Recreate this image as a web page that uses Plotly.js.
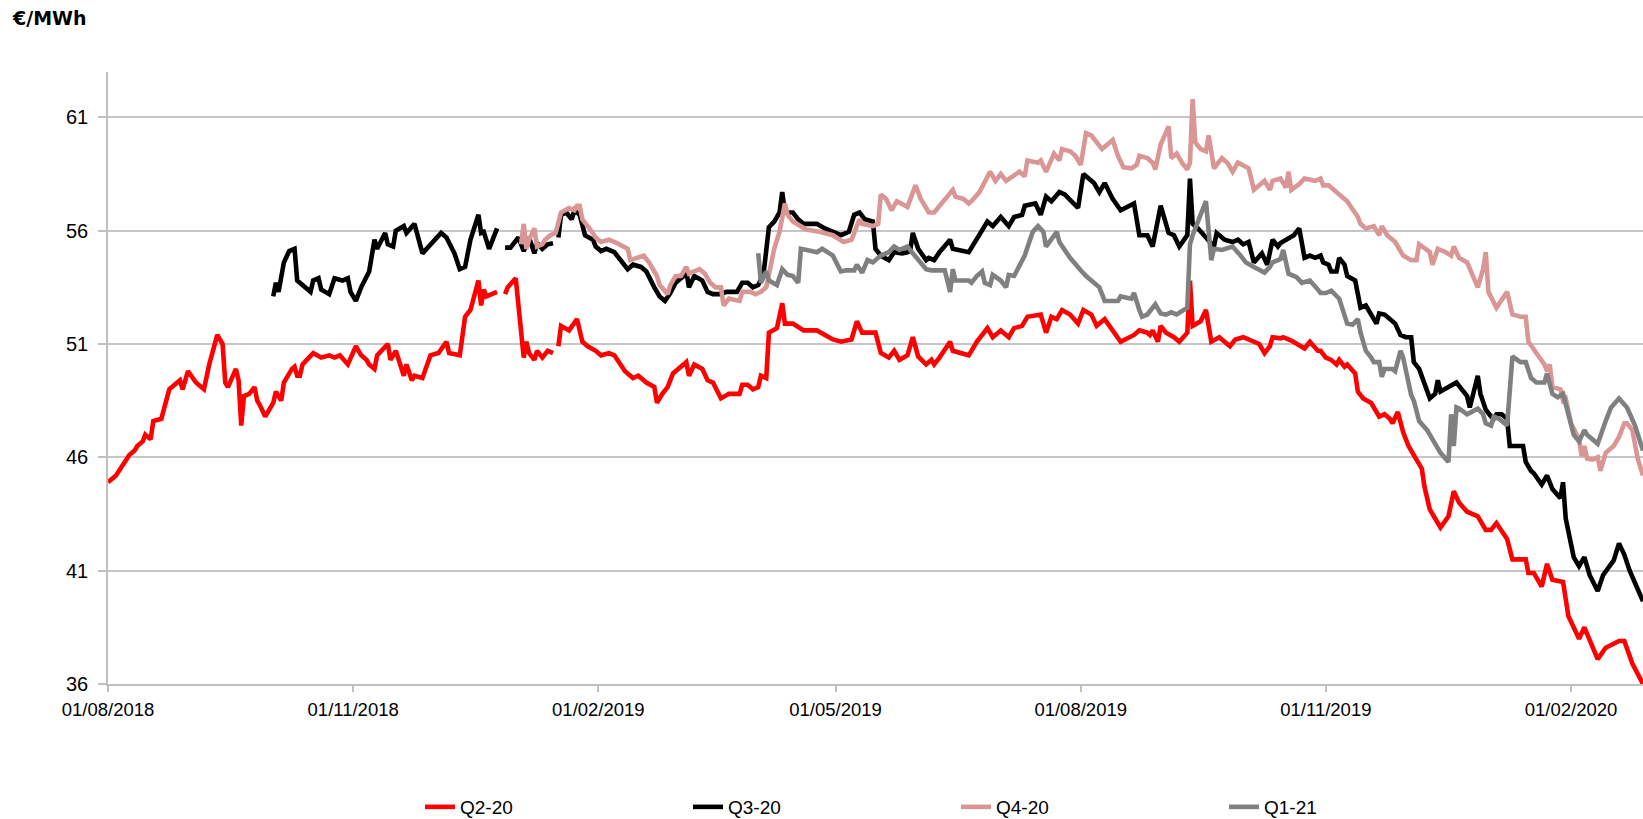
<!DOCTYPE html>
<html>
<head>
<meta charset="utf-8">
<script src="https://cdn.plot.ly/plotly-3.0.1.min.js"></script>
<style>
  html, body { margin: 0; padding: 0; background: #fff; }
  #chart { width: 1643px; height: 819px; }
</style>
</head>
<body>
<div id="chart"></div>
<script>
// Q2-20 (red)
const q220Dates = [
  "2018-08-01","2018-08-04","2018-08-09","2018-08-11","2018-08-12","2018-08-14","2018-08-15","2018-08-17","2018-08-18","2018-08-21",
  "2018-08-24","2018-08-28","2018-08-29","2018-08-31","2018-09-03","2018-09-05","2018-09-06","2018-09-08","2018-09-11","2018-09-13",
  "2018-09-14","2018-09-15","2018-09-18","2018-09-19","2018-09-20","2018-09-21","2018-09-23","2018-09-25","2018-09-26","2018-09-27",
  "2018-09-29","2018-10-02","2018-10-03","2018-10-05","2018-10-06","2018-10-09","2018-10-10","2018-10-11","2018-10-12","2018-10-13",
  "2018-10-17","2018-10-20","2018-10-23","2018-10-25","2018-10-27","2018-10-30","2018-11-02","2018-11-04","2018-11-06","2018-11-07",
  "2018-11-09","2018-11-10","2018-11-14","2018-11-15","2018-11-17","2018-11-20","2018-11-21","2018-11-23","2018-11-24","2018-11-27",
  "2018-11-30","2018-12-03","2018-12-06","2018-12-07","2018-12-11","2018-12-13","2018-12-15","2018-12-18","2018-12-19","2018-12-20",
  "2018-12-21","2018-12-25","2018-12-26","2018-12-28","2018-12-29","2019-01-01","2019-01-04","2019-01-05","2019-01-06","2019-01-08",
  "2019-01-09","2019-01-11","2019-01-13","2019-01-15","2019-01-16","2019-01-17","2019-01-18","2019-01-21","2019-01-24","2019-01-26",
  "2019-01-28","2019-01-31","2019-02-02","2019-02-05","2019-02-07","2019-02-11","2019-02-14","2019-02-16","2019-02-19","2019-02-22",
  "2019-02-23","2019-02-25","2019-02-27","2019-03-01","2019-03-03","2019-03-06","2019-03-07","2019-03-09","2019-03-12","2019-03-14",
  "2019-03-16","2019-03-19","2019-03-22","2019-03-26","2019-03-27","2019-03-29","2019-03-31","2019-04-02","2019-04-03","2019-04-05",
  "2019-04-06","2019-04-09","2019-04-11","2019-04-12","2019-04-15","2019-04-19","2019-04-24","2019-04-30","2019-05-03","2019-05-07",
  "2019-05-09","2019-05-11","2019-05-16","2019-05-18","2019-05-21","2019-05-23","2019-05-25","2019-05-28","2019-05-30","2019-06-01",
  "2019-06-04","2019-06-06","2019-06-07","2019-06-09","2019-06-13","2019-06-14","2019-06-20","2019-06-23","2019-06-27","2019-06-29",
  "2019-07-02","2019-07-05","2019-07-07","2019-07-10","2019-07-12","2019-07-17","2019-07-19","2019-07-21","2019-07-23","2019-07-25",
  "2019-07-28","2019-07-31","2019-08-02","2019-08-05","2019-08-07","2019-08-10","2019-08-16","2019-08-21","2019-08-23","2019-08-26",
  "2019-08-27","2019-08-28","2019-08-30","2019-08-31","2019-09-02","2019-09-05","2019-09-07","2019-09-10","2019-09-11","2019-09-12",
  "2019-09-15","2019-09-17","2019-09-19","2019-09-22","2019-09-26","2019-09-28","2019-10-01","2019-10-03","2019-10-07","2019-10-09",
  "2019-10-11","2019-10-12","2019-10-15","2019-10-16","2019-10-19","2019-10-24","2019-10-26","2019-10-29","2019-10-30","2019-11-01",
  "2019-11-03","2019-11-05","2019-11-06","2019-11-08","2019-11-09","2019-11-12","2019-11-13","2019-11-15","2019-11-18","2019-11-19",
  "2019-11-21","2019-11-23","2019-11-25","2019-11-26","2019-11-28","2019-11-30","2019-12-02","2019-12-04","2019-12-07","2019-12-08",
  "2019-12-10","2019-12-12","2019-12-14","2019-12-17","2019-12-19","2019-12-21","2019-12-24","2019-12-28","2019-12-31","2020-01-02",
  "2020-01-04","2020-01-08","2020-01-10","2020-01-15","2020-01-16","2020-01-18","2020-01-21","2020-01-23","2020-01-25","2020-01-29",
  "2020-01-31","2020-02-04","2020-02-06","2020-02-11","2020-02-14","2020-02-19","2020-02-21","2020-02-24","2020-02-28"
];
const q220Values = [
  44.9,45.2,46.1,46.3,46.5,46.7,47.0,46.8,47.6,47.7,
  49.0,49.4,49.0,49.8,49.3,49.1,49.0,50.1,51.4,51.0,
  49.3,49.1,49.9,49.4,47.4,48.7,48.8,49.1,48.5,48.3,
  47.8,48.4,48.9,48.5,49.3,49.9,50.0,49.6,49.6,50.1,
  50.6,50.4,50.5,50.4,50.5,50.1,50.9,50.5,50.3,50.1,
  49.9,50.5,51.0,50.3,50.7,49.6,50.1,49.4,49.6,49.5,
  50.5,50.6,51.1,50.6,50.5,52.2,52.5,53.8,52.7,53.4,
  53.1,53.3,null,53.2,53.5,53.9,50.4,51.1,50.6,50.3,
  50.7,50.4,50.7,50.6,null,50.9,51.8,51.6,52.1,51.1,
  50.9,50.7,50.5,50.6,50.5,49.8,49.5,49.6,49.3,49.1,
  48.4,48.8,49.1,49.7,49.9,50.2,49.6,50.1,49.9,49.4,
  49.3,48.6,48.8,48.8,49.2,49.2,49.0,49.1,49.6,49.5,
  51.5,51.7,52.8,51.9,51.9,51.6,51.6,51.2,51.1,51.2,
  52.0,51.5,51.5,50.6,50.4,50.7,50.3,50.5,51.3,50.45,
  50.1,50.3,50.1,50.4,51.1,50.7,50.5,51.1,51.7,51.3,
  51.6,51.3,51.7,51.8,52.2,52.3,51.5,52.2,52.1,52.5,
  52.3,51.9,52.5,52.3,51.8,52.1,51.1,51.4,51.6,51.5,
  51.4,51.6,51.1,51.8,51.5,51.3,51.1,51.5,53.8,51.8,
  52.0,52.5,51.1,51.3,50.9,51.2,51.3,51.2,51.0,50.6,
  50.9,51.3,51.25,51.3,51.15,50.8,51.1,50.7,50.7,50.4,
  50.3,50.1,50.3,50.0,50.1,49.7,48.9,48.6,48.4,48.2,
  47.8,47.9,47.7,47.5,48.0,47.1,46.5,46.1,45.5,44.7,
  43.7,43.3,42.9,43.4,44.5,44.0,43.6,43.4,42.8,42.8,
  43.1,42.4,41.5,41.5,40.9,40.9,40.3,41.3,40.6,40.5,
  39.0,38.0,38.5,37.1,37.6,37.9,37.9,36.9,36.0
];

// Q3-20 (black)
const q320Dates = [
  "2018-10-02","2018-10-03","2018-10-04","2018-10-06","2018-10-08","2018-10-10","2018-10-11","2018-10-16","2018-10-17","2018-10-19",
  "2018-10-20","2018-10-23","2018-10-25","2018-10-28","2018-10-30","2018-10-31","2018-11-02","2018-11-04","2018-11-07","2018-11-09",
  "2018-11-10","2018-11-13","2018-11-14","2018-11-16","2018-11-17","2018-11-20","2018-11-21","2018-11-24","2018-11-27","2018-11-30",
  "2018-12-04","2018-12-06","2018-12-09","2018-12-11","2018-12-13","2018-12-15","2018-12-18","2018-12-19","2018-12-20","2018-12-22",
  "2018-12-25","2018-12-26","2018-12-28","2018-12-30","2019-01-02","2019-01-04","2019-01-06","2019-01-08","2019-01-09","2019-01-11",
  "2019-01-13","2019-01-15","2019-01-16","2019-01-17","2019-01-18","2019-01-20","2019-01-22","2019-01-23","2019-01-25","2019-01-27",
  "2019-01-30","2019-01-31","2019-02-02","2019-02-04","2019-02-07","2019-02-12","2019-02-14","2019-02-17","2019-02-19","2019-02-22",
  "2019-02-24","2019-02-26","2019-02-28","2019-03-02","2019-03-05","2019-03-06","2019-03-07","2019-03-09","2019-03-12","2019-03-14",
  "2019-03-16","2019-03-19","2019-03-21","2019-03-24","2019-03-25","2019-03-27","2019-03-29","2019-03-31","2019-04-02","2019-04-04",
  "2019-04-06","2019-04-08","2019-04-10","2019-04-11","2019-04-12","2019-04-15","2019-04-17","2019-04-19","2019-04-24","2019-04-27",
  "2019-04-30","2019-05-03","2019-05-06","2019-05-08","2019-05-10","2019-05-12","2019-05-15","2019-05-16","2019-05-18","2019-05-21",
  "2019-05-23","2019-05-26","2019-05-28","2019-05-29","2019-05-30","2019-06-01","2019-06-04","2019-06-05","2019-06-07","2019-06-09",
  "2019-06-13","2019-06-14","2019-06-20","2019-06-23","2019-06-27","2019-06-29","2019-07-02","2019-07-05","2019-07-07","2019-07-10",
  "2019-07-11","2019-07-15","2019-07-17","2019-07-19","2019-07-21","2019-07-24","2019-07-26","2019-07-31","2019-08-02","2019-08-04",
  "2019-08-06","2019-08-08","2019-08-10","2019-08-13","2019-08-16","2019-08-21","2019-08-23","2019-08-26","2019-08-28","2019-08-31",
  "2019-09-03","2019-09-05","2019-09-07","2019-09-10","2019-09-11","2019-09-12","2019-09-14","2019-09-20","2019-09-21","2019-09-24",
  "2019-09-27","2019-09-29","2019-10-01","2019-10-03","2019-10-05","2019-10-08","2019-10-10","2019-10-12","2019-10-14","2019-10-15",
  "2019-10-17","2019-10-20","2019-10-22","2019-10-24","2019-10-26","2019-10-28","2019-10-30","2019-10-31","2019-11-02","2019-11-03",
  "2019-11-05","2019-11-06","2019-11-08","2019-11-09","2019-11-12","2019-11-14","2019-11-16","2019-11-18","2019-11-20","2019-11-21",
  "2019-11-23","2019-11-25","2019-11-27","2019-11-29","2019-12-01","2019-12-03","2019-12-04","2019-12-06","2019-12-08","2019-12-10",
  "2019-12-12","2019-12-13","2019-12-14","2019-12-18","2019-12-20","2019-12-22","2019-12-24","2019-12-25","2019-12-28","2019-12-29",
  "2019-12-31","2020-01-02","2020-01-03","2020-01-04","2020-01-06","2020-01-08","2020-01-09","2020-01-10","2020-01-14","2020-01-15",
  "2020-01-17","2020-01-18","2020-01-21","2020-01-23","2020-01-25","2020-01-28","2020-01-29","2020-01-30","2020-02-01","2020-02-02",
  "2020-02-04","2020-02-06","2020-02-08","2020-02-11","2020-02-13","2020-02-15","2020-02-17","2020-02-19","2020-02-21","2020-02-23",
  "2020-02-26","2020-02-28"
];
const q320Values = [
  53.1,53.7,53.3,54.6,55.1,55.2,53.8,53.3,53.8,53.9,
  53.4,53.2,53.9,53.8,53.9,53.3,52.9,53.5,54.2,55.6,
  55.2,55.9,55.4,55.3,56.0,56.2,55.9,56.3,55.0,55.4,
  55.9,55.7,55.0,54.3,54.4,55.6,56.7,55.9,55.95,55.2,
  56.1,null,55.25,55.25,55.7,55.1,55.7,55.0,55.45,55.2,
  55.4,55.45,null,55.7,56.7,56.8,56.5,56.9,56.7,55.8,
  55.6,55.3,55.1,55.2,55.05,54.3,54.5,54.4,54.2,53.5,
  53.1,52.9,53.25,53.7,54.0,54.2,53.5,54.0,53.8,53.3,
  53.2,53.2,53.3,53.3,53.3,53.7,53.7,53.5,53.6,54.1,
  56.15,56.4,56.8,57.7,56.8,56.8,56.5,56.3,56.3,56.1,
  55.95,55.8,55.95,56.7,56.8,56.5,56.4,55.2,54.9,54.7,
  55.05,55.0,55.05,55.1,55.9,55.2,54.7,54.8,54.7,55.05,
  55.6,55.2,55.05,55.6,56.4,56.2,56.6,56.2,56.6,56.7,
  57.1,57.2,56.7,57.5,57.3,57.7,57.6,57.0,58.5,58.3,
  58.1,57.7,58.1,57.4,56.9,57.2,55.8,55.8,55.3,57.1,
  55.9,55.8,55.3,55.8,58.3,56.3,56.1,55.3,55.9,55.6,
  55.5,55.6,55.4,55.5,54.6,55.0,54.5,55.6,55.3,55.45,
  55.6,55.8,56.1,54.8,54.9,54.8,54.9,54.6,54.5,54.2,
  54.2,54.8,54.5,54.0,53.8,52.6,52.7,52.3,51.9,52.35,
  52.3,52.1,51.9,51.4,51.3,51.3,50.2,49.9,49.3,48.6,
  48.8,49.4,48.9,49.2,49.3,49.0,48.7,48.2,49.6,48.8,
  48.1,47.8,47.7,47.9,47.9,47.7,46.5,46.5,46.5,45.8,
  45.4,45.3,44.8,45.2,44.6,44.2,44.9,43.3,42.2,41.6,
  41.2,41.6,40.8,40.1,40.8,41.1,41.45,42.2,41.7,41.0,
  40.2,39.65
];

// Q4-20 (light red)
const q420Dates = [
  "2019-01-03","2019-01-04","2019-01-05","2019-01-06","2019-01-08","2019-01-09","2019-01-11","2019-01-12","2019-01-14","2019-01-16",
  "2019-01-18","2019-01-20","2019-01-21","2019-01-23","2019-01-24","2019-01-25","2019-01-26","2019-01-29","2019-01-31","2019-02-02",
  "2019-02-05","2019-02-08","2019-02-12","2019-02-13","2019-02-15","2019-02-18","2019-02-20","2019-02-23","2019-02-24","2019-02-27",
  "2019-02-28","2019-03-02","2019-03-04","2019-03-05","2019-03-06","2019-03-07","2019-03-09","2019-03-11","2019-03-13","2019-03-15",
  "2019-03-17","2019-03-19","2019-03-20","2019-03-22","2019-03-26","2019-03-27","2019-03-30","2019-04-01","2019-04-03","2019-04-05",
  "2019-04-08","2019-04-10","2019-04-12","2019-04-13","2019-04-15","2019-04-20","2019-04-25","2019-04-30","2019-05-04","2019-05-07",
  "2019-05-10","2019-05-11","2019-05-15","2019-05-17","2019-05-18","2019-05-20","2019-05-22","2019-05-24","2019-05-28","2019-05-31",
  "2019-06-02","2019-06-05","2019-06-07","2019-06-10","2019-06-14","2019-06-15","2019-06-18","2019-06-20","2019-06-21","2019-06-24",
  "2019-06-28","2019-06-30","2019-07-02","2019-07-04","2019-07-09","2019-07-11","2019-07-12","2019-07-16","2019-07-17","2019-07-19",
  "2019-07-22","2019-07-24","2019-07-25","2019-07-28","2019-07-30","2019-08-01","2019-08-03","2019-08-05","2019-08-07","2019-08-09",
  "2019-08-13","2019-08-15","2019-08-17","2019-08-20","2019-08-22","2019-08-23","2019-08-26","2019-08-28","2019-08-29","2019-08-31",
  "2019-09-03","2019-09-04","2019-09-06","2019-09-08","2019-09-10","2019-09-11","2019-09-12","2019-09-13","2019-09-15","2019-09-17",
  "2019-09-18","2019-09-20","2019-09-23","2019-09-25","2019-09-27","2019-09-29","2019-10-03","2019-10-05","2019-10-08","2019-10-09",
  "2019-10-11","2019-10-12","2019-10-15","2019-10-17","2019-10-18","2019-10-19","2019-10-22","2019-10-24","2019-10-28","2019-10-30",
  "2019-10-31","2019-11-02","2019-11-06","2019-11-09","2019-11-13","2019-11-14","2019-11-16","2019-11-19","2019-11-21","2019-11-22",
  "2019-11-24","2019-11-27","2019-11-28","2019-11-30","2019-12-03","2019-12-05","2019-12-06","2019-12-09","2019-12-10","2019-12-11",
  "2019-12-13","2019-12-16","2019-12-18","2019-12-19","2019-12-21","2019-12-24","2019-12-26","2019-12-28","2019-12-30","2019-12-31",
  "2020-01-01","2020-01-04","2020-01-08","2020-01-10","2020-01-13","2020-01-15","2020-01-16","2020-01-19","2020-01-22","2020-01-23",
  "2020-01-24","2020-01-25","2020-01-28","2020-01-29","2020-01-30","2020-02-01","2020-02-04","2020-02-05","2020-02-06","2020-02-07",
  "2020-02-09","2020-02-11","2020-02-12","2020-02-14","2020-02-17","2020-02-19","2020-02-21","2020-02-22","2020-02-24","2020-02-26",
  "2020-02-28"
];
const q420Values = [
  55.4,56.3,55.2,55.6,56.1,55.3,55.4,55.6,55.8,55.9,
  56.8,56.9,57.0,56.9,57.1,57.1,56.5,56.05,55.7,55.5,
  55.6,55.45,55.2,54.7,54.8,54.9,54.6,54.0,53.6,53.2,
  53.6,54.0,54.0,54.2,54.4,54.1,54.2,54.3,54.1,53.7,
  53.5,53.5,52.7,53.0,52.9,53.3,53.3,53.2,53.3,53.5,
  55.2,55.95,57.2,56.7,56.4,56.05,55.95,55.8,55.5,55.6,
  56.5,56.3,56.2,56.3,57.6,57.4,56.9,57.3,57.05,58.0,
  57.4,56.8,56.8,57.2,57.8,57.5,57.4,57.2,57.3,57.7,
  58.6,58.2,58.5,58.2,58.6,58.4,59.1,59.0,59.1,58.6,
  59.4,59.1,59.6,59.5,59.3,58.9,60.3,60.2,59.9,59.6,
  60.0,59.3,58.8,58.75,58.9,59.3,59.2,59.0,58.7,59.8,
  60.6,59.2,59.4,59.0,58.7,59.0,61.8,59.9,59.6,59.5,
  60.2,58.75,59.2,59.0,58.6,59.0,58.75,57.8,58.1,58.2,
  57.8,58.2,58.3,57.9,58.6,57.8,58.05,58.3,58.2,58.3,
  58.0,58.0,57.6,57.3,56.6,56.3,56.1,56.2,55.8,56.2,
  55.8,55.5,55.3,54.9,54.7,54.7,55.4,55.1,55.05,54.5,
  55.2,55.05,54.9,55.3,54.8,54.6,54.1,53.5,54.3,55.05,
  53.3,52.6,53.3,52.3,52.2,52.2,51.1,50.6,50.1,49.8,
  50.1,49.1,49.0,48.5,48.6,47.5,46.8,46.05,46.5,45.95,
  45.9,46.0,45.4,46.2,46.5,46.9,47.5,47.5,47.2,45.95,
  45.2
];

// Q1-21 (grey)
const q121Dates = [
  "2019-04-02","2019-04-03","2019-04-05","2019-04-06","2019-04-09","2019-04-11","2019-04-13","2019-04-15","2019-04-17","2019-04-18",
  "2019-04-22","2019-04-24","2019-04-26","2019-04-28","2019-04-30","2019-05-03","2019-05-05","2019-05-08","2019-05-09","2019-05-11",
  "2019-05-13","2019-05-15","2019-05-18","2019-05-21","2019-05-23","2019-05-25","2019-05-28","2019-05-30","2019-06-02","2019-06-04",
  "2019-06-06","2019-06-11","2019-06-13","2019-06-14","2019-06-15","2019-06-20","2019-06-21","2019-06-23","2019-06-25","2019-06-26",
  "2019-06-28","2019-06-29","2019-07-02","2019-07-04","2019-07-05","2019-07-07","2019-07-11","2019-07-14","2019-07-16","2019-07-18",
  "2019-07-19","2019-07-21","2019-07-23","2019-07-24","2019-07-25","2019-07-28","2019-08-01","2019-08-03","2019-08-08","2019-08-10",
  "2019-08-15","2019-08-16","2019-08-20","2019-08-21","2019-08-23","2019-08-24","2019-08-26","2019-08-29","2019-08-31","2019-09-02",
  "2019-09-04","2019-09-06","2019-09-10","2019-09-11","2019-09-12","2019-09-16","2019-09-17","2019-09-19","2019-09-20","2019-09-23",
  "2019-09-25","2019-09-27","2019-09-30","2019-10-02","2019-10-05","2019-10-07","2019-10-09","2019-10-11","2019-10-12","2019-10-15",
  "2019-10-16","2019-10-18","2019-10-21","2019-10-23","2019-10-25","2019-10-26","2019-10-29","2019-10-30","2019-11-01","2019-11-03",
  "2019-11-06","2019-11-09","2019-11-11","2019-11-13","2019-11-14","2019-11-16","2019-11-18","2019-11-19","2019-11-21","2019-11-22",
  "2019-11-23","2019-11-26","2019-11-27","2019-11-29","2019-11-30","2019-12-03","2019-12-04","2019-12-06","2019-12-09","2019-12-11",
  "2019-12-14","2019-12-17","2019-12-18","2019-12-19","2019-12-20","2019-12-21","2019-12-24","2019-12-28","2019-12-30","2019-12-31",
  "2020-01-02","2020-01-03","2020-01-05","2020-01-08","2020-01-10","2020-01-13","2020-01-15","2020-01-17","2020-01-19","2020-01-22",
  "2020-01-23","2020-01-25","2020-01-27","2020-01-29","2020-01-31","2020-02-02","2020-02-04","2020-02-06","2020-02-07","2020-02-11",
  "2020-02-14","2020-02-16","2020-02-19","2020-02-21","2020-02-22","2020-02-25","2020-02-27","2020-02-28"
];
const q121Values = [
  55.0,53.7,54.2,53.8,53.6,54.3,54.05,54.0,53.7,55.2,
  55.1,55.05,55.2,55.05,54.9,54.2,54.25,54.25,54.5,54.15,
  54.7,54.6,54.9,55.05,55.3,55.15,55.3,55.0,54.6,54.3,
  54.25,54.25,53.3,54.3,53.8,53.8,53.7,54.0,54.2,53.7,
  53.6,54.05,53.8,53.5,54.05,54.0,54.9,55.95,56.2,55.95,
  55.3,55.6,55.95,55.5,55.3,54.8,54.25,54.0,53.5,52.9,
  52.9,53.1,53.0,53.25,52.5,52.2,52.3,52.75,52.35,52.3,
  52.4,52.3,52.6,55.4,55.8,57.1,57.3,54.7,55.2,55.15,
  55.2,55.3,54.9,54.6,54.4,54.3,54.15,54.4,54.6,54.75,
  55.15,54.1,53.95,53.7,53.75,53.8,53.4,53.25,53.25,53.35,
  53.0,51.9,51.85,52.1,51.5,50.7,50.4,50.2,50.2,49.55,
  49.9,49.9,49.8,50.7,50.4,48.75,48.5,47.6,47.2,46.8,
  46.2,45.8,47.9,46.5,48.2,48.15,47.9,48.15,47.9,47.5,
  47.4,47.8,47.7,47.4,50.45,50.2,50.2,49.5,49.3,49.3,
  49.7,48.8,48.65,48.8,47.9,47.0,46.7,47.2,47.0,46.6,
  47.6,48.2,48.6,48.3,48.2,47.4,46.7,46.3
];

const seriesNames = ["Q2-20", "Q3-20", "Q4-20", "Q1-21"];
const seriesColors = ["#ff0000", "#000000", "#d99694", "#808080"];

const tickDates = ["2018-08-01", "2018-11-01", "2019-02-01", "2019-05-01", "2019-08-01", "2019-11-01", "2020-02-01"];
const tickLabels = ["01/08/2018", "01/11/2018", "01/02/2019", "01/05/2019", "01/08/2019", "01/11/2019", "01/02/2020"];

const allDates = [q220Dates, q320Dates, q420Dates, q121Dates];
const allValues = [q220Values, q320Values, q420Values, q121Values];

const traces = seriesNames.map((name, i) => ({
    x: allDates[i],
    y: allValues[i],
    name: name,
    type: "scatter",
    mode: "lines",
    connectgaps: false,
    line: { color: seriesColors[i], width: 4.6 },
}));

const plotWidth = 1643 - 108;
const plotHeight = 819 - 72 - 135;

const layout = {
    width: 1643,
    height: 819,
    margin: { l: 108, r: 0, t: 72, b: 135, autoexpand: false },
    paper_bgcolor: "#ffffff",
    plot_bgcolor: "#ffffff",
    font: { family: "Liberation Sans, Arial, sans-serif", size: 19, color: "#000000" },
    showlegend: true,
    legend: {
        orientation: "h",
        x: (420 - 108) / plotWidth,
        xanchor: "left",
        y: -123 / plotHeight,
        yanchor: "middle",
        entrywidth: 223,
        entrywidthmode: "pixels",
        font: { size: 19 },
        traceorder: "normal",
    },
    xaxis: {
        type: "date",
        range: ["2018-08-01", "2020-02-28"],
        tickmode: "array",
        tickvals: tickDates,
        ticktext: tickLabels,
        ticks: "outside",
        ticklen: 6,
        tickwidth: 1.5,
        tickcolor: "#bfbfbf",
        showline: true,
        linecolor: "#bfbfbf",
        linewidth: 1.5,
        showgrid: false,
        zeroline: false,
        automargin: false,
        tickfont: { size: 18.5 },
        ticklabelstandoff: 2,
    },
    yaxis: {
        range: [36, 63],
        tickmode: "linear",
        tick0: 36,
        dtick: 5,
        ticks: "outside",
        ticklen: 8,
        tickwidth: 1.5,
        tickcolor: "#bfbfbf",
        showline: true,
        linecolor: "#bfbfbf",
        linewidth: 1.5,
        showgrid: true,
        gridcolor: "#c6c6c6",
        gridwidth: 1.5,
        zeroline: false,
        automargin: false,
        tickfont: { size: 20 },
        ticklabelstandoff: 6,
    },
    annotations: [
        {
            text: "<b>€/MWh</b>",
            xref: "paper",
            yref: "paper",
            x: (10 - 108) / plotWidth,
            y: 1 + 54 / plotHeight,
            xanchor: "left",
            yanchor: "middle",
            showarrow: false,
            font: { family: "DejaVu Sans, sans-serif", size: 19, color: "#000000" },
        },
    ],
};

Plotly.newPlot("chart", traces, layout, { displayModeBar: false, responsive: false });
</script>
</body>
</html>
